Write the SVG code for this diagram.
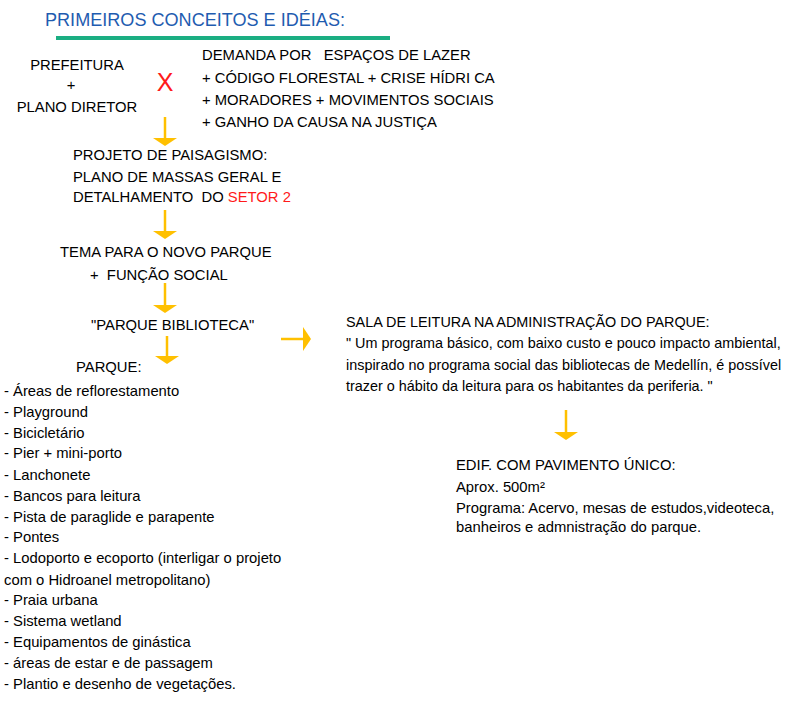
<svg xmlns="http://www.w3.org/2000/svg" width="806" height="710" viewBox="0 0 806 710">
<style>
text{font-family:"Liberation Sans",Arial,sans-serif;font-size:14.8px;fill:#000;white-space:pre}
.title{font-size:19px;fill:#1F5CB0}
.red{fill:#FF1A1A}
.sm{font-size:14.4px}
.arr{stroke:#FFC000;stroke-width:2.5;fill:none}
</style>
<defs>
<marker id="ah" markerUnits="userSpaceOnUse" markerWidth="8" markerHeight="24" refX="0" refY="12" viewBox="0 0 8 24" orient="auto" overflow="visible">
<path d="M0,0 L8,12 L0,24 z" fill="#FFC000"/>
</marker>
</defs>
<rect width="806" height="710" fill="#fff"/>
<g id="title">
<text class="title" x="45" y="26" textLength="300" lengthAdjust="spacingAndGlyphs">PRIMEIROS CONCEITOS E IDÉIAS:</text>
<rect x="56" y="36" width="334" height="4" fill="#1BAE82"/>
</g>
<g id="prefeitura">
<text x="77" y="70" text-anchor="middle">PREFEITURA</text>
<text x="71" y="90" text-anchor="middle">+</text>
<text x="77" y="112" text-anchor="middle">PLANO DIRETOR</text>
</g>
<g id="x-sign">
<text x="165" y="91" text-anchor="middle" class="red" style="font-size:25px">X</text>
</g>
<g id="demanda">
<text x="202" y="60">DEMANDA POR   ESPAÇOS DE LAZER</text>
<text x="202" y="83">+ CÓDIGO FLORESTAL + CRISE HÍDRI CA</text>
<text x="202" y="105">+ MORADORES + MOVIMENTOS SOCIAIS</text>
<text x="202" y="127">+ GANHO DA CAUSA NA JUSTIÇA</text>
</g>
<g id="projeto">
<text x="73" y="160">PROJETO DE PAISAGISMO:</text>
<text x="73" y="182">PLANO DE MASSAS GERAL E</text>
<text x="73" y="202">DETALHAMENTO  DO <tspan class="red">SETOR 2</tspan></text>
</g>
<g id="tema">
<text x="60" y="257">TEMA PARA O NOVO PARQUE</text>
<text x="90" y="280">+  FUNÇÃO SOCIAL</text>
</g>
<g id="parque-biblioteca">
<text x="91" y="330">"PARQUE BIBLIOTECA"</text>
</g>
<g id="parque">
<text x="76" y="372">PARQUE:</text>
<text x="4" y="396">- Áreas de reflorestamento</text>
<text x="4" y="417">- Playground</text>
<text x="4" y="438">- Bicicletário</text>
<text x="4" y="458">- Pier + mini-porto</text>
<text x="4" y="480">- Lanchonete</text>
<text x="4" y="501">- Bancos para leitura</text>
<text x="4" y="522">- Pista de paraglide e parapente</text>
<text x="4" y="542">- Pontes</text>
<text x="4" y="563">- Lodoporto e ecoporto (interligar o projeto</text>
<text x="4" y="585">com o Hidroanel metropolitano)</text>
<text x="4" y="605">- Praia urbana</text>
<text x="4" y="626">- Sistema wetland</text>
<text x="4" y="647">- Equipamentos de ginástica</text>
<text x="4" y="668">- áreas de estar e de passagem</text>
<text x="4" y="689">- Plantio e desenho de vegetações.</text>
</g>
<g id="sala">
<text class="sm" x="346" y="327">SALA DE LEITURA NA ADMINISTRAÇÃO DO PARQUE:</text>
<text class="sm" x="346" y="348">" Um programa básico, com baixo custo e pouco impacto ambiental,</text>
<text class="sm" x="346" y="370">inspirado no programa social das bibliotecas de Medellín, é possível</text>
<text class="sm" x="346" y="391">trazer o hábito da leitura para os habitantes da periferia. "</text>
</g>
<g id="edif">
<text x="456" y="470">EDIF. COM PAVIMENTO ÚNICO:</text>
<text x="456" y="492">Aprox. 500m²</text>
<text x="456" y="513">Programa: Acervo, mesas de estudos,videoteca,</text>
<text x="456" y="532">banheiros e admnistração do parque.</text>
</g>
<g id="connectors">
<line class="arr" x1="165" y1="117" x2="165" y2="138" marker-end="url(#ah)"/>
<line class="arr" x1="165" y1="210" x2="165" y2="231" marker-end="url(#ah)"/>
<line class="arr" x1="165" y1="283" x2="165" y2="305" marker-end="url(#ah)"/>
<line class="arr" x1="167" y1="336" x2="167" y2="356" marker-end="url(#ah)"/>
<line class="arr" x1="281" y1="339" x2="303" y2="339" marker-end="url(#ah)"/>
<line class="arr" x1="566" y1="410" x2="566" y2="432" marker-end="url(#ah)"/>
</g>
</svg>
